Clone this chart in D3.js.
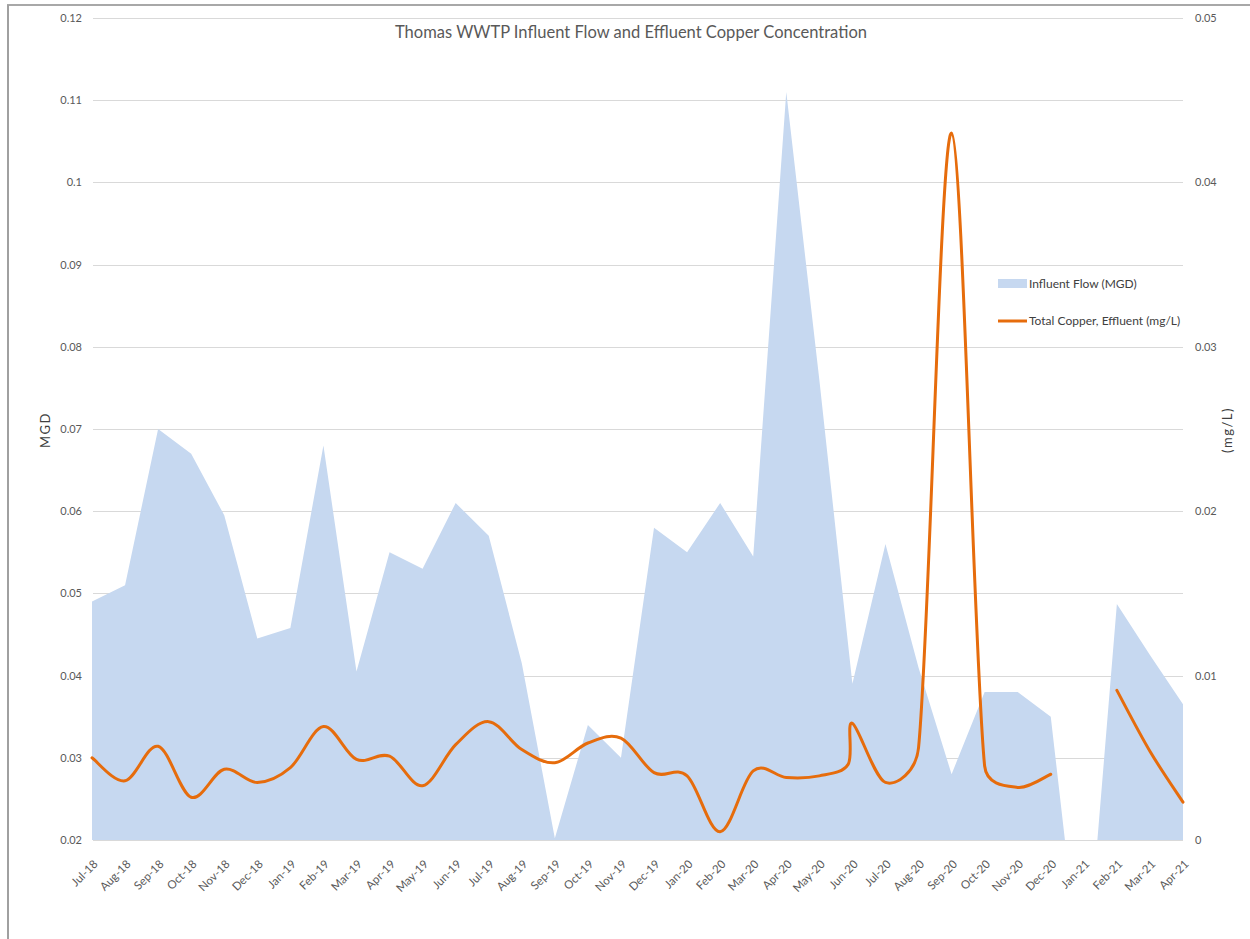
<!DOCTYPE html>
<html>
<head>
<meta charset="utf-8">
<script src="https://cdn.jsdelivr.net/npm/d3@7"></script>
<style>
  html, body { margin: 0; padding: 0; background: #ffffff; }
  svg { display: block; }
  text { font-family: Lato, "Open Sans", sans-serif; }
</style>
</head>
<body>
<svg id="chart" width="1250" height="939"></svg>
<script>
// Month categories on the x axis
const months = [
  "Jul-18","Aug-18","Sep-18","Oct-18","Nov-18","Dec-18","Jan-19","Feb-19","Mar-19","Apr-19",
  "May-19","Jun-19","Jul-19","Aug-19","Sep-19","Oct-19","Nov-19","Dec-19","Jan-20","Feb-20",
  "Mar-20","Apr-20","May-20","Jun-20","Jul-20","Aug-20","Sep-20","Oct-20","Nov-20","Dec-20",
  "Jan-21","Feb-21","Mar-21","Apr-21"
];

// Monthly influent flow, MGD (blank month plotted as zero)
const flowMGD = [
  0.049, 0.051, 0.070, 0.067, 0.0595, 0.0445, 0.0458, 0.068, 0.0405, 0.055,
  0.053, 0.061, 0.057, 0.0415, 0.0202, 0.034, 0.030, 0.058, 0.055, 0.061,
  0.0545, 0.111, 0.076, 0.039, 0.056, 0.041, 0.028, 0.038, 0.038, 0.035,
  0, 0.0487, 0.0425, 0.0365
];

// Total copper in effluent, mg/L, by sample date (null = no sample)
const copperDates = [
  "2018-07-01","2018-08-01","2018-09-01","2018-10-01","2018-11-01","2018-12-01",
  "2019-01-01","2019-02-01","2019-03-01","2019-04-01","2019-05-01","2019-06-01",
  "2019-07-01","2019-08-01","2019-09-01","2019-10-01","2019-11-01","2019-12-01",
  "2020-01-01","2020-02-01","2020-03-01","2020-04-01","2020-05-01","2020-05-28",
  "2020-06-01","2020-07-01","2020-08-01","2020-09-01","2020-10-01","2020-11-01",
  "2020-12-01","2021-01-01","2021-02-01","2021-03-01","2021-04-01"
];
const copperMgL = [
  0.0050, 0.0036, 0.0057, 0.0026, 0.0043, 0.0035,
  0.0044, 0.0069, 0.0049, 0.0051, 0.0033, 0.0058,
  0.0072, 0.0055, 0.0047, 0.0059, 0.0062, 0.0041,
  0.0039, 0.0005, 0.0042, 0.0038, 0.0039, 0.0046,
  0.0071, 0.0035, 0.0056, 0.0430, 0.0045, 0.0032,
  0.0040, null, 0.0091, 0.0054, 0.0023
];

// Axis tick values
const flowTicks = [0.02, 0.03, 0.04, 0.05, 0.06, 0.07, 0.08, 0.09, 0.10, 0.11, 0.12];
const copperTicks = [0, 0.01, 0.02, 0.03, 0.04, 0.05];

const titleText = "Thomas WWTP Influent Flow and Effluent Copper Concentration";
const legendItems = ["Influent Flow (MGD)", "Total Copper, Effluent (mg/L)"];

// ---- layout ----
const plot = { left: 92, right: 1183, top: 18, bottom: 840 };
const AREA_FILL = "#c6d8f0";
const LINE_COLOR = "#e66c0c";
const GRID = "#d9d9d9";
const LABEL = "#595959";

const svg = d3.select("#chart");

// month position (0 = Jul-18), fractional within a month by day
function monthPos(s) {
  const [y, m, d] = s.split("-").map(Number);
  const days = new Date(y, m, 0).getDate();
  return (y - 2018) * 12 + (m - 7) + (d - 1) / days;
}

// Spreadsheet-style smoothed line: cubic Bezier through each point with
// tangents from the neighbours, arm length capped at half the segment.
function SmoothCurve(context) { this._context = context; }
SmoothCurve.prototype = {
  areaStart() {}, areaEnd() {},
  lineStart() { this._pts = []; },
  point(px, py) { this._pts.push([+px, +py]); },
  lineEnd() {
    const p = this._pts, n = p.length, c = this._context;
    if (!n) return;
    const dist = (a, b) => Math.hypot(b[0] - a[0], b[1] - a[1]);
    c.moveTo(p[0][0], p[0][1]);
    if (n === 2) { c.lineTo(p[1][0], p[1][1]); return; }
    for (let i = 0; i < n - 1; i++) {
      const p0 = p[Math.max(i - 1, 0)], p1 = p[i], p2 = p[i + 1], p3 = p[Math.min(i + 2, n - 1)];
      const d12 = dist(p1, p2), d02 = dist(p0, p2), d13 = dist(p1, p3);
      let f1 = 1 / 6, f2 = 1 / 6;
      if (d02 / 6 > d12 / 2) f1 = d12 / (2 * d02);
      if (d13 / 6 > d12 / 2) f2 = d12 / (2 * d13);
      c.bezierCurveTo(
        p1[0] + (p2[0] - p0[0]) * f1, p1[1] + (p2[1] - p0[1]) * f1,
        p2[0] - (p3[0] - p1[0]) * f2, p2[1] - (p3[1] - p1[1]) * f2,
        p2[0], p2[1]
      );
    }
  }
};
const curveSmooth = ctx => new SmoothCurve(ctx);

const x = d3.scaleLinear().domain([0, months.length - 1]).range([plot.left, plot.right]);
const yFlow = d3.scaleLinear().domain([0.02, 0.12]).range([plot.bottom, plot.top]);
const yCu = d3.scaleLinear().domain([0, 0.05]).range([plot.bottom, plot.top]);

const fmt = v => String(+v.toFixed(3));

// frame lines
svg.append("line").attr("x1", 7).attr("x2", 1250).attr("y1", 5).attr("y2", 5)
  .attr("stroke", "#a8a8a8").attr("stroke-width", 2);
svg.append("line").attr("x1", 8).attr("x2", 8).attr("y1", 5).attr("y2", 939)
  .attr("stroke", "#a0a0a0").attr("stroke-width", 2);

// gridlines
svg.append("g").selectAll("line").data(flowTicks).join("line")
  .attr("x1", plot.left + 1).attr("x2", plot.right)
  .attr("y1", d => Math.round(yFlow(d)) + 0.5).attr("y2", d => Math.round(yFlow(d)) + 0.5)
  .attr("stroke", GRID).attr("stroke-width", 1.2);

// clip to plot rectangle
svg.append("defs").append("clipPath").attr("id", "plotClip")
  .append("rect").attr("x", plot.left).attr("y", plot.top)
  .attr("width", plot.right - plot.left).attr("height", plot.bottom - plot.top);

// influent flow area
const flowData = flowMGD.map((v, i) => ({ i, v }));
const area = d3.area()
  .x(d => x(d.i))
  .y0(yFlow(0))
  .y1(d => yFlow(d.v));
svg.append("path").datum(flowData)
  .attr("clip-path", "url(#plotClip)")
  .attr("d", area)
  .attr("fill", AREA_FILL);

// copper line, smoothed
const cuData = copperDates.map((s, i) => ({ p: monthPos(s), v: copperMgL[i] }));
const line = d3.line()
  .defined(d => d.v !== null)
  .x(d => x(d.p))
  .y(d => yCu(d.v))
  .curve(curveSmooth);
svg.append("path").datum(cuData)
  .attr("d", line)
  .attr("fill", "none")
  .attr("stroke", LINE_COLOR)
  .attr("stroke-width", 3)
  .attr("stroke-linejoin", "round")
  .attr("stroke-linecap", "round");

// left axis
const gL = svg.append("g").attr("transform", `translate(${plot.left - 10},0)`)
  .call(d3.axisLeft(yFlow).tickValues(flowTicks).tickFormat(fmt).tickSize(0).tickPadding(0));
gL.select(".domain").remove();
gL.selectAll("text").attr("fill", LABEL).style("font-size", "11px").style("font-family", "Lato, sans-serif");

// right axis
const gR = svg.append("g").attr("transform", `translate(${plot.right + 12},0)`)
  .call(d3.axisRight(yCu).tickValues(copperTicks).tickFormat(fmt).tickSize(0).tickPadding(0));
gR.select(".domain").remove();
gR.selectAll("text").attr("fill", LABEL).style("font-size", "11px").style("font-family", "Lato, sans-serif");

// bottom axis with rotated month labels
const gB = svg.append("g").attr("transform", `translate(0,${plot.bottom})`)
  .call(d3.axisBottom(x).tickValues(d3.range(months.length)).tickFormat(i => months[i]).tickSize(0));
gB.select(".domain").remove();
gB.selectAll("text")
  .attr("fill", LABEL)
  .style("font-size", "11.5px").style("font-family", "Lato, sans-serif")
  .attr("text-anchor", "end")
  .attr("y", 0).attr("dy", "0.35em")
  .attr("transform", "translate(3,22) rotate(-45)");

// title
svg.append("text")
  .attr("x", 631).attr("y", 38)
  .attr("text-anchor", "middle")
  .attr("fill", LABEL)
  .attr("textLength", 472).attr("lengthAdjust", "spacingAndGlyphs")
  .style("font-size", "17px")
  .text(titleText);

// axis titles
svg.append("text")
  .attr("transform", "translate(50,430) rotate(-90)")
  .attr("text-anchor", "middle")
  .attr("fill", "#404040")
  .style("font-size", "13px").style("letter-spacing", "1.5px")
  .text("MGD");
svg.append("text")
  .attr("transform", "translate(1232,430) rotate(-90)")
  .attr("text-anchor", "middle")
  .attr("fill", "#404040")
  .style("font-size", "13px").style("letter-spacing", "1.5px")
  .text("(mg/L)");

// legend
const lg = svg.append("g");
lg.append("rect").attr("x", 998).attr("y", 279).attr("width", 29).attr("height", 9).attr("fill", AREA_FILL);
lg.append("line").attr("x1", 998).attr("x2", 1027).attr("y1", 321).attr("y2", 321)
  .attr("stroke", LINE_COLOR).attr("stroke-width", 3);
lg.selectAll("text.leg").data(legendItems).join("text")
  .attr("class", "leg")
  .attr("x", 1029).attr("y", (d, i) => i === 0 ? 284 : 321)
  .attr("dy", "0.35em")
  .attr("fill", "#404040")
  .style("font-size", "12px")
  .text(d => d);
</script>
</body>
</html>
